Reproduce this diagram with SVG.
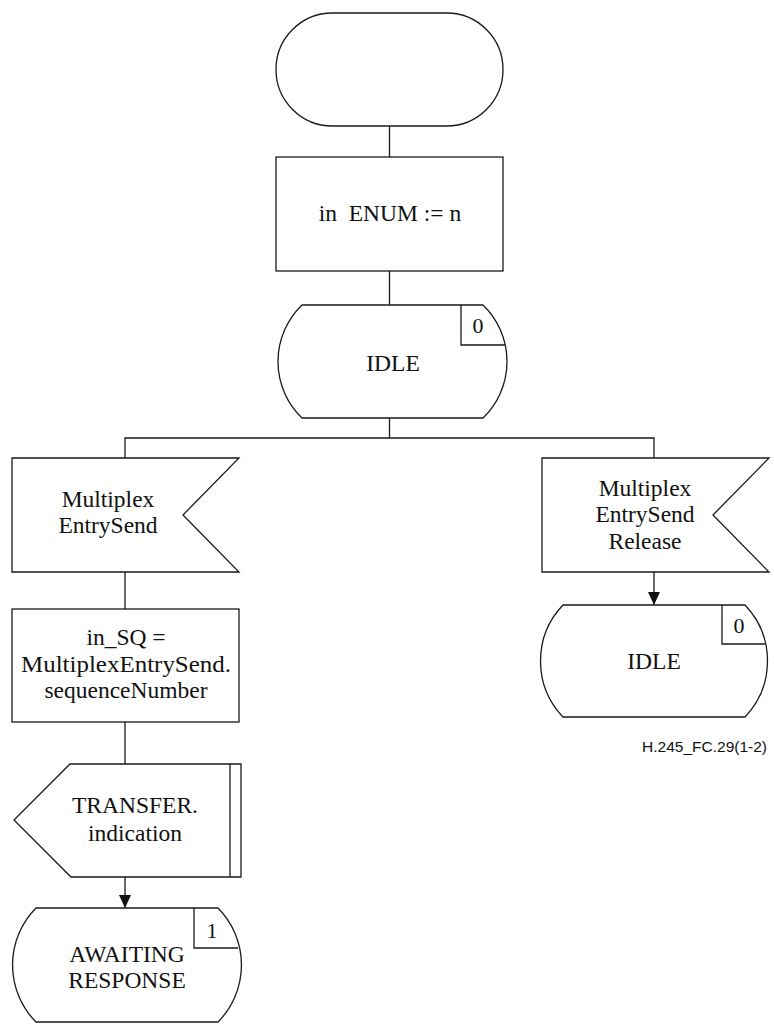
<svg xmlns="http://www.w3.org/2000/svg" width="774" height="1024" viewBox="0 0 774 1024">
<defs>
<style>
.s{fill:#fff;stroke:#1a1a1a;stroke-width:1.3}
.c{fill:none;stroke:#1a1a1a;stroke-width:1.3}
.t{font-family:"Liberation Serif","Times New Roman",serif;font-size:23.5px;fill:#111;text-anchor:middle}
.n{font-family:"Liberation Serif","Times New Roman",serif;font-size:22px;fill:#111;text-anchor:middle}
.f{font-family:"Liberation Sans",Arial,sans-serif;font-size:15.5px;fill:#111;text-anchor:end}
</style>
<marker id="ah" markerWidth="13" markerHeight="12" refX="13" refY="6" orient="auto" markerUnits="userSpaceOnUse">
<path d="M0,0 L13,6 L0,12 Z" fill="#111"/>
</marker>
</defs>
<rect width="774" height="1024" fill="#fff"/>
<g id="connectors">
<line class="c" x1="389.5" y1="126" x2="389.5" y2="157"/>
<line class="c" x1="389.5" y1="271" x2="389.5" y2="305"/>
<line class="c" x1="389.5" y1="418" x2="389.5" y2="438"/>
<polyline class="c" points="125,458 125,438 654,438 654,458"/>
<line class="c" x1="125" y1="572" x2="125" y2="609"/>
<line class="c" x1="125" y1="722" x2="125" y2="764"/>
<line class="c" x1="125" y1="877" x2="125" y2="908" marker-end="url(#ah)"/>
<line class="c" x1="654" y1="572" x2="654" y2="605" marker-end="url(#ah)"/>
</g>
<g id="start">
<rect class="s" x="276" y="13" width="227" height="113" rx="56.5" ry="56.5"/>
</g>
<g id="task-enum">
<rect class="s" x="276" y="157" width="227" height="114"/>
<text class="t" x="390" y="221" xml:space="preserve">in  ENUM := n</text>
</g>
<g id="state-idle-top">
<path class="s" d="M302,305 L483,305 A78.5,78.5 0 0 1 483,418 L302,418 A78.5,78.5 0 0 1 302,305 Z"/>
<path class="c" d="M461,305 L461,345 L505,345"/>
<text class="n" x="478" y="333">0</text>
<text class="t" x="393" y="371">IDLE</text>
</g>
<g id="input-mes">
<path class="s" d="M12,458 L239,458 L183,515 L239,572 L12,572 Z"/>
<text class="t" x="108" y="507">Multiplex</text>
<text class="t" x="108" y="533">EntrySend</text>
</g>
<g id="input-mes-release">
<path class="s" d="M542,458 L769,458 L713,515 L769,572 L542,572 Z"/>
<text class="t" x="645" y="496">Multiplex</text>
<text class="t" x="645" y="522">EntrySend</text>
<text class="t" x="645" y="549">Release</text>
</g>
<g id="task-sq">
<rect class="s" x="12" y="609" width="227" height="113"/>
<text class="t" x="126" y="645">in_SQ =</text>
<text class="t" x="126" y="672" textLength="210" lengthAdjust="spacingAndGlyphs">MultiplexEntrySend.</text>
<text class="t" x="126" y="698">sequenceNumber</text>
</g>
<g id="output-transfer">
<path class="s" d="M70,764 L241,764 L241,877 L71,877 L14,820 Z"/>
<line class="c" x1="230" y1="764" x2="230" y2="877"/>
<text class="t" x="135" y="813">TRANSFER.</text>
<text class="t" x="135" y="841">indication</text>
</g>
<g id="state-idle-right">
<path class="s" d="M563,605 L745,605 A81,81 0 0 1 745,717 L563,717 A81,81 0 0 1 563,605 Z"/>
<path class="c" d="M722,605 L722,644 L765,644"/>
<text class="n" x="739" y="633">0</text>
<text class="t" x="654" y="669">IDLE</text>
</g>
<g id="state-awaiting">
<path class="s" d="M36,908 L218,908 A81,81 0 0 1 218,1022 L36,1022 A81,81 0 0 1 36,908 Z"/>
<path class="c" d="M194,908 L194,948 L238,948"/>
<text class="n" x="212" y="938">1</text>
<text class="t" x="127" y="962">AWAITING</text>
<text class="t" x="127" y="988">RESPONSE</text>
</g>
<text class="f" x="767" y="752">H.245_FC.29(1-2)</text>
</svg>
